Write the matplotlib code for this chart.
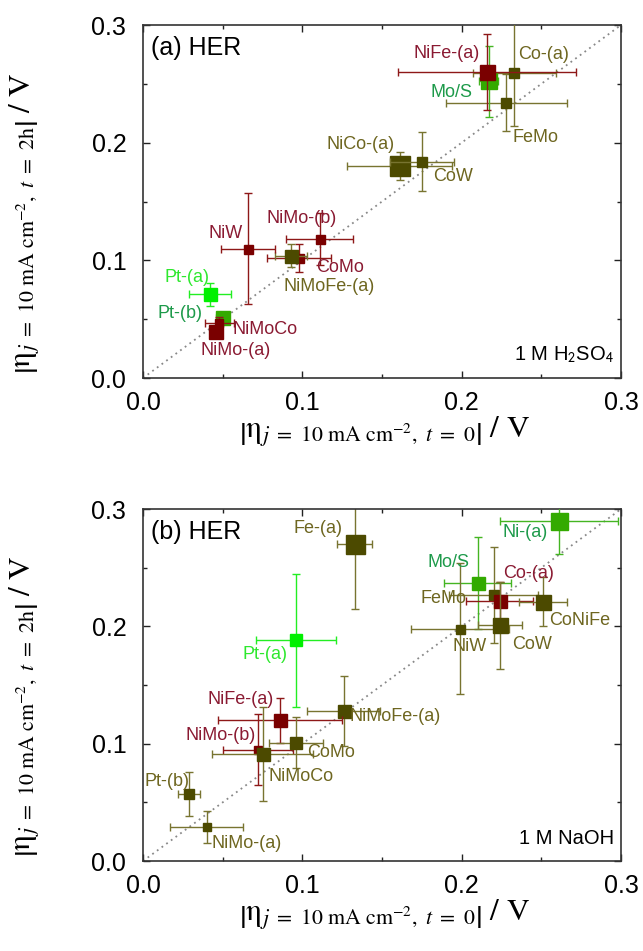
import matplotlib
matplotlib.use("Agg")
import matplotlib.pyplot as plt
from matplotlib.ticker import MultipleLocator

plt.rcParams["font.family"] = ["Liberation Sans", "DejaVu Sans"]
plt.rcParams["mathtext.fontset"] = "stix"

# ── data: panel (a) HER, 1 M H2SO4 ─────────────────────────────────────────
a_names = ["NiMo-(b)", "CoMo", "NiMoFe-(a)", "NiW", "Pt-(a)", "Pt-(b)",
           "NiMoCo", "NiMo-(a)", "NiCo-(a)", "CoW", "FeMo", "Co-(a)",
           "Mo/S", "NiFe-(a)"]
a_x    = [0.111, 0.098, 0.093, 0.066, 0.042, 0.050,
          0.048, 0.046, 0.161, 0.175, 0.228, 0.233, 0.217, 0.216]
a_y    = [0.118, 0.102, 0.104, 0.110, 0.071, 0.051,
          0.047, 0.039, 0.180, 0.184, 0.234, 0.259, 0.252, 0.260]
a_xerr = [0.021, 0.020, 0.010, 0.017, 0.013, 0.004,
          0.009, 0.003, 0.033, 0.020, 0.038, 0.026, 0.006, 0.056]
a_yerr = [0.022, 0.012, 0.010, 0.047, 0.010, 0.004,
          0.005, 0.003, 0.012, 0.025, 0.024, 0.045, 0.030, 0.032]
a_group = ["red", "red", "olive", "red", "lime", "green",
           "red", "red", "olive", "olive", "olive", "olive", "green", "red"]

# ── data: panel (b) HER, 1 M NaOH ──────────────────────────────────────────
b_names = ["Fe-(a)", "Pt-(a)", "NiMoFe-(a)", "NiFe-(a)", "NiMo-(b)", "CoMo",
           "NiMoCo", "Pt-(b)", "NiMo-(a)", "Ni-(a)", "Mo/S", "NiW",
           "FeMo", "Co-(a)", "CoNiFe", "CoW"]
b_x    = [0.133, 0.096, 0.126, 0.086, 0.072, 0.096,
          0.075, 0.029, 0.040, 0.261, 0.210, 0.199,
          0.220, 0.224, 0.251, 0.224]
b_y    = [0.270, 0.188, 0.128, 0.120, 0.095, 0.101,
          0.091, 0.057, 0.029, 0.290, 0.237, 0.198,
          0.227, 0.222, 0.221, 0.201]
b_xerr = [0.011, 0.025, 0.023, 0.039, 0.022, 0.017,
          0.032, 0.007, 0.023, 0.037, 0.021, 0.031,
          0.028, 0.021, 0.015, 0.014]
b_yerr = [0.055, 0.057, 0.030, 0.019, 0.030, 0.022,
          0.040, 0.019, 0.014, 0.028, 0.039, 0.056,
          0.041, 0.016, 0.021, 0.037]
b_group = ["olive", "lime", "olive", "red", "red", "olive",
           "olive", "olive", "olive", "green", "green", "olive",
           "olive", "red", "olive", "olive"]

# ── styles (marker size in px, label offset in px, alignment) ──────────────
a_size = [9, 9, 13, 9, 13, 14, 8, 14, 20, 10, 10, 10, 16, 15]
a_lab = [(-18, 21, "center"), (17, -10, "left"), (-8, -31, "left"),
         (-5, 15, "right"), (0, 17, "right"), (-20, 5, "right"),
         (13, -7, "left"), (-16, -18, "left"), (-5, 22, "right"),
         (11, -15, "left"), (6, -35, "left"), (4, 19, "left"),
         (-16, -11, "right"), (-7, 19, "right")]
b_size = [19, 12, 13, 13, 8, 12, 13, 10, 8, 17, 13, 9, 10, 13, 15, 15]
b_lab = [(-12, 16, "right"), (-8, -14, "right"), (6, -6, "left"),
         (-6, 21, "right"), (-2, 14, "right"), (11, -10, "left"),
         (6, -22, "left"), (0, 13, "right"), (5, -16, "left"),
         (-11, -12, "right"), (-8, 20, "right"), (-8, -18, "left"),
         (-27, -4, "right"), (3, 27, "left"), (6, -19, "left"),
         (12, -19, "left")]

MARK = {"red": "#7a0000", "olive": "#4c4a00", "green": "#33aa00", "lime": "#00f000"}
ERR  = {"red": "#8e1818", "olive": "#787430", "green": "#44b522", "lime": "#22ee22"}
TXT  = {"red": "#8a1a32", "olive": "#6e6620", "green": "#1d9a4a", "lime": "#2ee82e"}

XLAB = r"$\left|\mathrm{\eta}_{j\ =\ 10\ \mathrm{mA\ cm^{-2}},\ t\ =\ 0}\right|\ /\ \mathrm{V}$"
YLAB = r"$\left|\mathrm{\eta}_{j\ =\ 10\ \mathrm{mA\ cm^{-2}},\ t\ =\ 2\mathrm{h}}\right|\ /\ \mathrm{V}$"


def draw_panel(ax, names, xs, ys, xe, ye, groups, sizes, labs, tag, electrolyte):
    ax.plot([0, 0.3], [0, 0.3], color="#888888", lw=1.3,
            linestyle=(0, (1, 2.2)), zorder=1)
    for i in range(len(names)):
        g = groups[i]
        ax.errorbar(xs[i], ys[i], xerr=xe[i], yerr=ye[i],
                    fmt="s", ms=sizes[i] * 0.72, mfc=MARK[g], mec=MARK[g],
                    ecolor=ERR[g], elinewidth=1.0, capsize=3.2, capthick=1.0,
                    zorder=2 + i)
        dx, dy, ha = labs[i]
        ax.annotate(names[i], (xs[i], ys[i]), xytext=(dx, dy),
                    textcoords="offset pixels", ha=ha, va="center",
                    fontsize=13, color=TXT[g], zorder=40)

    ax.text(0.016, 0.935, tag, transform=ax.transAxes, fontsize=18,
            ha="left", va="center")
    ax.text(0.985, 0.065, electrolyte, transform=ax.transAxes, fontsize=14.5,
            ha="right", va="center")

    ax.set_xlim(0, 0.3)
    ax.set_ylim(0, 0.3)
    ax.xaxis.set_major_locator(MultipleLocator(0.1))
    ax.yaxis.set_major_locator(MultipleLocator(0.1))
    ax.xaxis.set_minor_locator(MultipleLocator(0.05))
    ax.yaxis.set_minor_locator(MultipleLocator(0.05))
    ax.tick_params(which="both", direction="in", top=True, right=True,
                   width=1.0, color="#222222")
    ax.tick_params(which="major", length=5)
    ax.tick_params(which="minor", length=3)
    ax.tick_params(axis="x", which="major", labelsize=18, pad=9)
    ax.tick_params(axis="y", which="major", labelsize=18, pad=12)
    for sp in ax.spines.values():
        sp.set_linewidth(1.2)
        sp.set_color("#333333")

    ax.set_xlabel(XLAB, fontsize=22.5)
    ax.xaxis.label.set_verticalalignment("center")
    ax.xaxis.set_label_coords(0.505, -0.155)
    ax.set_ylabel(YLAB, fontsize=22.5)
    ax.yaxis.label.set_verticalalignment("center")
    ax.yaxis.set_label_coords(-0.245, 0.44)


fig = plt.figure(figsize=(6.43, 9.51), dpi=100)
ax_a = fig.add_axes([0.2224, 0.6025, 0.7434, 0.3712])
ax_b = fig.add_axes([0.2224, 0.0946, 0.7434, 0.3701])

draw_panel(ax_a, a_names, a_x, a_y, a_xerr, a_yerr, a_group, a_size, a_lab,
           "(a) HER", r"1 M H$_\mathsf{2}$SO$_\mathsf{4}$")
draw_panel(ax_b, b_names, b_x, b_y, b_xerr, b_yerr, b_group, b_size, b_lab,
           "(b) HER", "1 M NaOH")

fig.savefig("out.png", dpi=100)
